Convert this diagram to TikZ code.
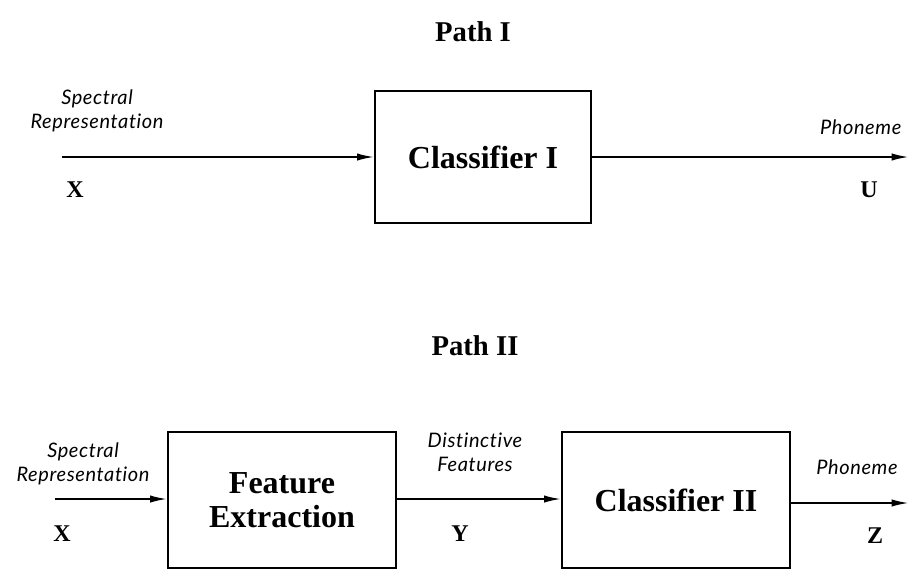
\documentclass[tikz,border=0pt]{standalone}
\usepackage{fontspec}
\setmainfont{Liberation Serif}
\newfontfamily\lblfont[Ligatures=NoCommon,LetterSpace=3]{Lato}
\usetikzlibrary{arrows.meta}
\begin{document}
\begin{tikzpicture}[x=0.75pt,y=-0.75pt,
  blockbox/.style={draw,line width=0.9pt,inner sep=0pt},
  sig/.style={line width=1.5pt,-{Latex[length=13pt,width=5.5pt]}},
  ttl/.style={font=\fontsize{21.5}{23}\selectfont\bfseries},
  boxtxt/.style={font=\fontsize{24}{25}\selectfont\bfseries,align=center},
  ital/.style={font=\lblfont\itshape\fontsize{15}{18}\selectfont,align=center},
  var/.style={font=\fontsize{18}{20}\selectfont\bfseries}]
\useasboundingbox (0,0) rectangle (909,569);
% Path I
\node[ttl] (t1) at (473,32) {Path I};
\node[blockbox,minimum width=216*0.75pt,minimum height=132*0.75pt] (c1) at (483,157) {};
\node[boxtxt] (c1t) at (483,157) {Classifier I};
\coordinate (in1) at (62,157);
\coordinate (out1) at (909,157);
\draw[sig] (in1) -- (c1.west);
\draw[sig] (c1.east) -- (out1);
\node[ital] (sr1) at (97,111) {Spectral\\Representation};
\node[var] (x1) at (75,190) {X};
\node[ital,anchor=east] (ph1) at (906,127) {Phoneme};
\node[var] (u1) at (869,190) {U};
% Path II
\node[ttl] (t2) at (475,346) {Path II};
\node[blockbox,minimum width=228*0.75pt,minimum height=136*0.75pt] (fe) at (282,500) {};
\node[boxtxt] (fet) at (282,500) {Feature\\Extraction};
\node[blockbox,minimum width=228*0.75pt,minimum height=136*0.75pt] (c2) at (676,500) {};
\node[boxtxt] (c2t) at (676,500) {Classifier II};
\coordinate (in2) at (55,499);
\coordinate (out2) at (909,503);
\draw[sig] (in2) -- (in2 -| fe.west);
\draw[sig] (fe.east |- 0,499) -- (c2.west |- 0,499);
\draw[sig] (c2.east |- 0,503) -- (out2);
\node[ital] (sr2) at (83,464) {Spectral\\Representation};
\node[var] (x2) at (62,534) {X};
\node[ital] (df) at (475,452) {Distinctive\\Features};
\node[var] (y2) at (460,534) {Y};
\node[ital] (ph2) at (857,467) {Phoneme};
\node[var] (z2) at (875,536) {Z};
\end{tikzpicture}
\end{document}
